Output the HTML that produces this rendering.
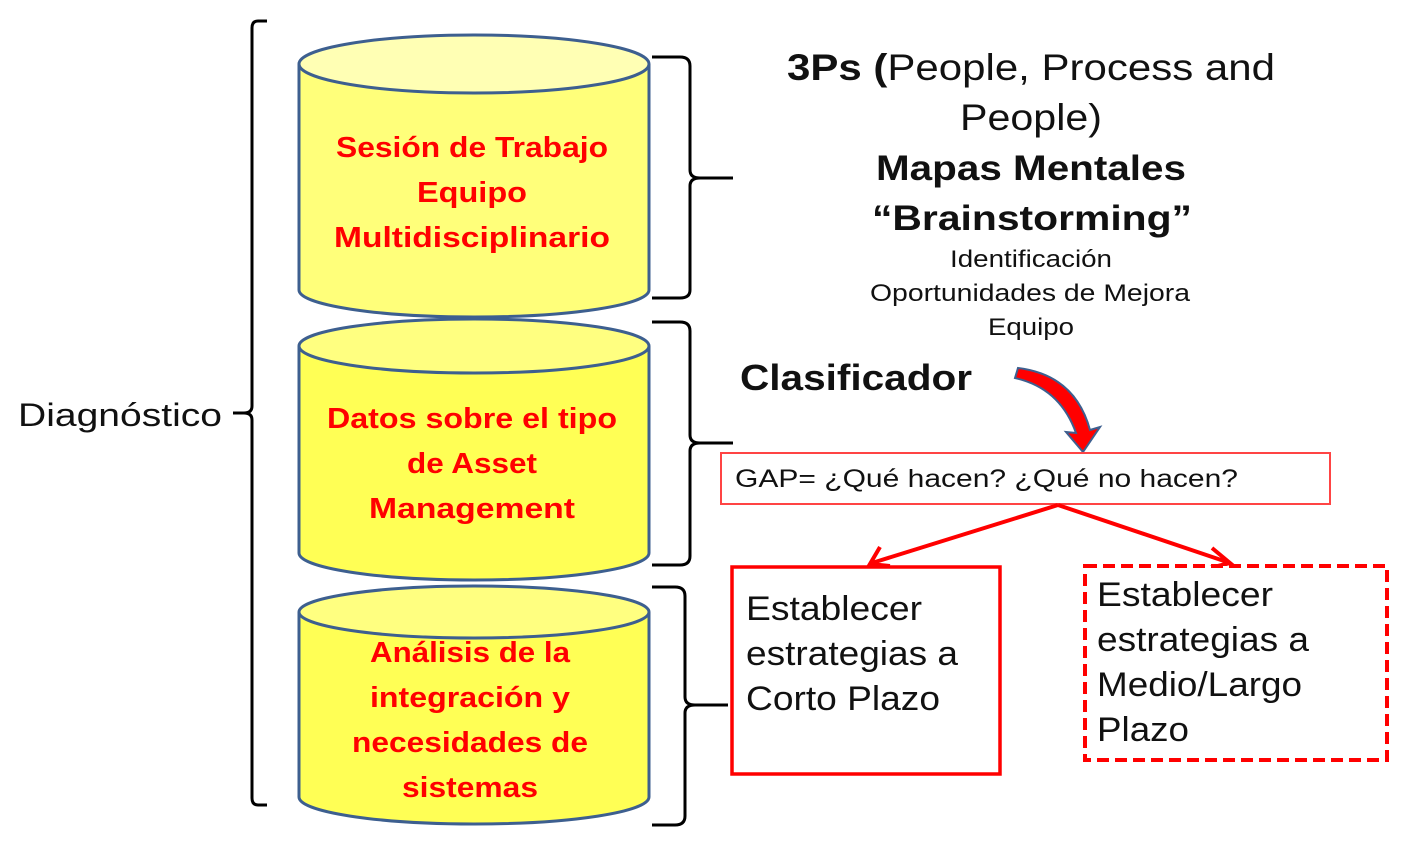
<!DOCTYPE html>
<html><head><meta charset="utf-8"><style>
body{margin:0;background:#fff;}
svg{display:block;}
.r{font-family:"Liberation Sans",sans-serif;font-weight:bold;fill:#f00;font-size:29px;text-anchor:middle;}
.t{font-family:"Liberation Sans",sans-serif;fill:#111;text-anchor:middle;}
</style></head><body>
<svg width="1427" height="858" viewBox="0 0 1427 858">
<g stroke="#3d5f8f" stroke-width="3">
<path d="M299,64 V290 A175,27 0 0 0 649,290 V64" fill="#ffff7a"/>
<ellipse cx="474" cy="64" rx="175" ry="29" fill="#ffffb4"/>
<path d="M299,346 V553 A175,27 0 0 0 649,553 V346" fill="#ffff55"/>
<ellipse cx="474" cy="346" rx="175" ry="27" fill="#ffff80"/>
<path d="M299,612 V797 A175,27 0 0 0 649,797 V612" fill="#ffff55"/>
<ellipse cx="474" cy="612" rx="175" ry="26" fill="#ffff80"/>
</g>
<g class="r" lengthAdjust="spacingAndGlyphs">
<text class="r" x="472" y="157" textLength="272" lengthAdjust="spacingAndGlyphs">Sesión de Trabajo</text>
<text class="r" x="472" y="202" textLength="110" lengthAdjust="spacingAndGlyphs">Equipo</text>
<text class="r" x="472" y="247" textLength="276" lengthAdjust="spacingAndGlyphs">Multidisciplinario</text>
<text class="r" x="472" y="428" textLength="290" lengthAdjust="spacingAndGlyphs">Datos sobre el tipo</text>
<text class="r" x="472" y="473" textLength="130" lengthAdjust="spacingAndGlyphs">de Asset</text>
<text class="r" x="472" y="518" textLength="206" lengthAdjust="spacingAndGlyphs">Management</text>
<text class="r" x="470" y="662" textLength="200" lengthAdjust="spacingAndGlyphs">Análisis de la</text>
<text class="r" x="470" y="707" textLength="200" lengthAdjust="spacingAndGlyphs">integración y</text>
<text class="r" x="470" y="752" textLength="236" lengthAdjust="spacingAndGlyphs">necesidades de</text>
<text class="r" x="470" y="797" textLength="136" lengthAdjust="spacingAndGlyphs">sistemas</text>
</g>
<g fill="none" stroke="#000" stroke-width="3">
<path d="M267,21 H258 Q252,21 252,28 V406 Q252,413 244,413 Q252,413 252,420 V798 Q252,805 258,805 H267"/>
<path d="M233,413 H244"/>
<path d="M652,57 H680 Q690,57 690,66 V170 Q690,178 700,178 H733 M700,178 Q690,178 690,186 V290 Q690,298 680,298 H652"/>
<path d="M652,322 H680 Q690,322 690,331 V435 Q690,443 700,443 H733 M700,443 Q690,443 690,451 V556 Q690,565 680,565 H652"/>
<path d="M652,587 H675 Q685,587 685,596 V697 Q685,705 695,705 H728 M695,705 Q685,705 685,713 V816 Q685,825 675,825 H652"/>
</g>
<text class="t" x="120" y="426" style="font-size:32px" textLength="204" lengthAdjust="spacingAndGlyphs">Diagnóstico</text>
<text class="t" x="1031" y="80" style="font-size:37px" textLength="488" lengthAdjust="spacingAndGlyphs"><tspan font-weight="bold">3Ps (</tspan>People, Process and</text>
<text class="t" x="1031" y="130" style="font-size:37px" textLength="142" lengthAdjust="spacingAndGlyphs">People)</text>
<text class="t" x="1031" y="180" style="font-size:35px;font-weight:bold" textLength="310" lengthAdjust="spacingAndGlyphs">Mapas Mentales</text>
<text class="t" x="1032" y="230" style="font-size:35px;font-weight:bold" textLength="320" lengthAdjust="spacingAndGlyphs">“Brainstorming”</text>
<text class="t" x="1031" y="267" style="font-size:24px" textLength="162" lengthAdjust="spacingAndGlyphs">Identificación</text>
<text class="t" x="1030" y="301" style="font-size:24px" textLength="320" lengthAdjust="spacingAndGlyphs">Oportunidades de Mejora</text>
<text class="t" x="1031" y="335" style="font-size:24px" textLength="86" lengthAdjust="spacingAndGlyphs">Equipo</text>
<text class="t" x="856" y="390" style="font-size:36px;font-weight:bold" textLength="232" lengthAdjust="spacingAndGlyphs">Clasificador</text>
<path d="M1015,378 L1018,368 Q1075,375 1090,430 L1100,427 L1083,452 L1066,432 L1076,433 Q1060,388 1015,378 Z" fill="#f00" stroke="#3d5f8f" stroke-width="2"/>
<rect x="721" y="453" width="609" height="51" fill="#fff" stroke="#f44" stroke-width="2"/>
<text x="735" y="487" style="font-family:'Liberation Sans',sans-serif;font-size:25px;fill:#111" textLength="503" lengthAdjust="spacingAndGlyphs">GAP= ¿Qué hacen?  ¿Qué no hacen?</text>
<g stroke="#f00" stroke-width="4" fill="none">
<path d="M1058,505 L872,563 M880,547 L870,564 L890,566"/>
<path d="M1058,505 L1230,563 M1212,548 L1230,563 L1210,568"/>
</g>
<rect x="732" y="567" width="268" height="207" fill="#fff" stroke="#f00" stroke-width="3.5"/>
<g style="font-family:'Liberation Sans',sans-serif;font-size:34px;fill:#111">
<text x="746" y="620" textLength="176" lengthAdjust="spacingAndGlyphs">Establecer</text>
<text x="746" y="665" textLength="212" lengthAdjust="spacingAndGlyphs">estrategias a</text>
<text x="746" y="710" textLength="194" lengthAdjust="spacingAndGlyphs">Corto Plazo</text>
</g>
<rect x="1085" y="566" width="302" height="194" fill="#fff" stroke="#f00" stroke-width="4" stroke-dasharray="12,6"/>
<g style="font-family:'Liberation Sans',sans-serif;font-size:34px;fill:#111">
<text x="1097" y="606" textLength="176" lengthAdjust="spacingAndGlyphs">Establecer</text>
<text x="1097" y="651" textLength="212" lengthAdjust="spacingAndGlyphs">estrategias a</text>
<text x="1097" y="696" textLength="205" lengthAdjust="spacingAndGlyphs">Medio/Largo</text>
<text x="1097" y="741" textLength="92" lengthAdjust="spacingAndGlyphs">Plazo</text>
</g>
</svg>
</body></html>
